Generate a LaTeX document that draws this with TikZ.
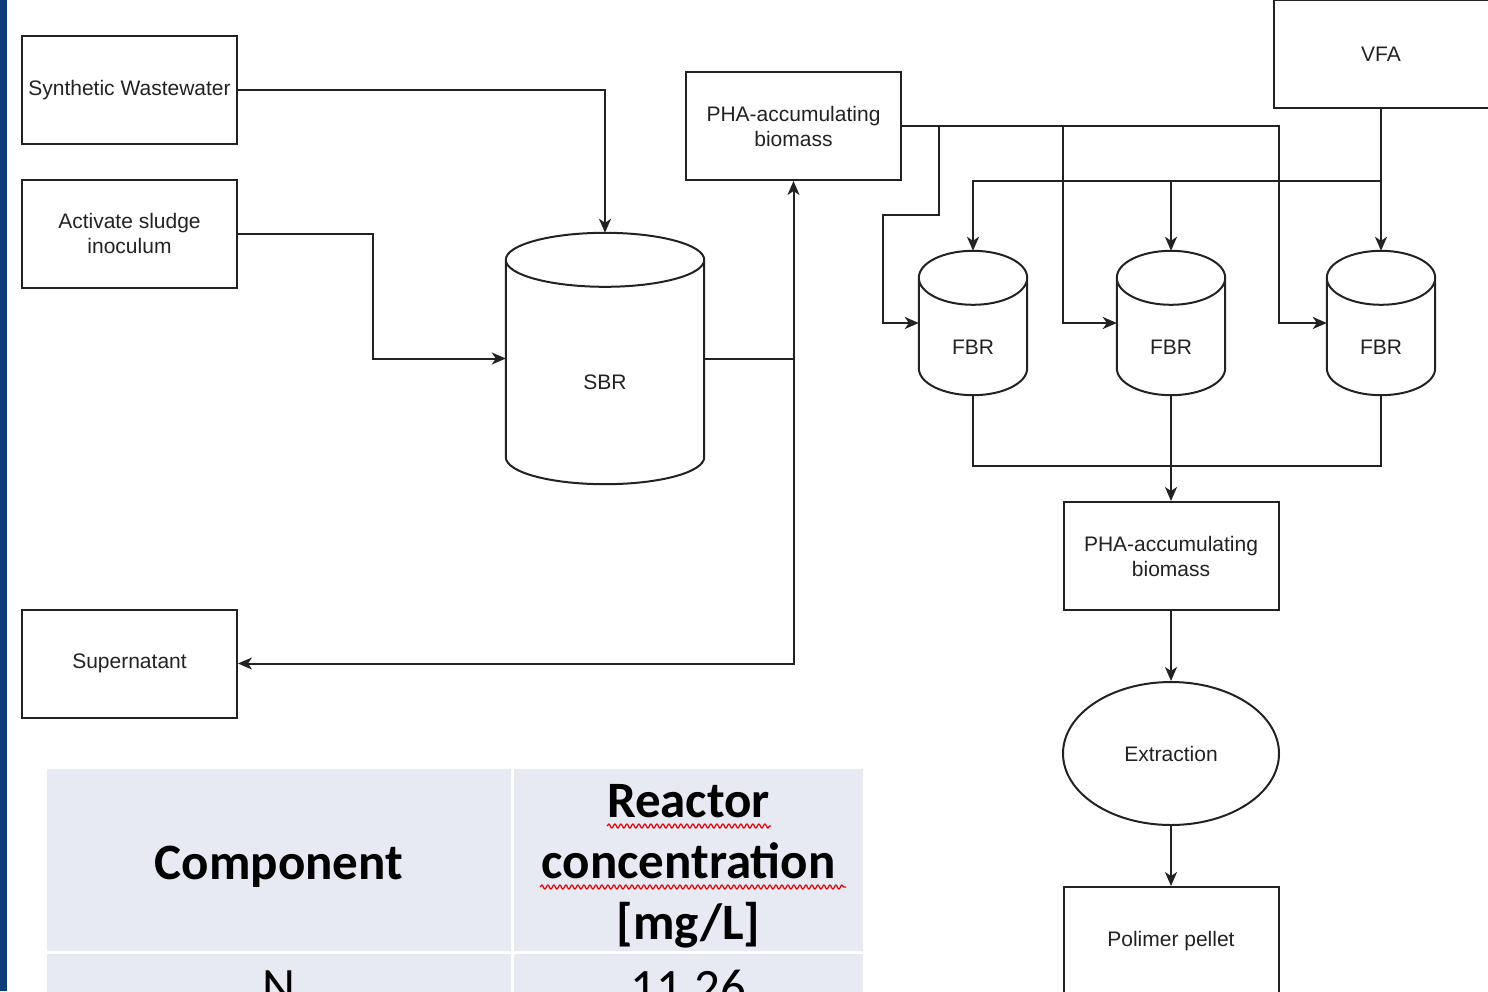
\documentclass[tikz,border=0pt]{standalone}
\usepackage{fontspec}
\setmainfont{Liberation Sans}
\newfontfamily\tabfont{Carlito}
\usetikzlibrary{arrows.meta,shapes.geometric,calc,decorations.pathmorphing}
\definecolor{slidebar}{RGB}{12,62,124}
\definecolor{cellbg}{RGB}{232,234,243}
\definecolor{inkgray}{RGB}{34,34,34}

\begin{document}
\begin{tikzpicture}[
    x=1pt, y=-1pt,
    >={Stealth[length=14pt,width=12pt,inset=4pt]},
    every node/.style={font=\fontsize{21}{25}\selectfont, text=inkgray},
    box/.style={
        draw=inkgray, line width=2pt,
        minimum width=215pt, minimum height=108pt,
        inner sep=0pt, align=center
    },
    tank/.style={minimum width=108pt, minimum height=144pt, inner sep=0pt},
    wire/.style={draw=inkgray, line width=2pt},
    flow/.style={wire, ->},
    cell/.style={fill=cellbg, inner sep=0pt},
    celltxt/.style={
        align=center, text=black,
        font=\tabfont\fontsize{51}{61}\selectfont
    },
    headtxt/.style={celltxt, font=\tabfont\bfseries\fontsize{51}{61}\selectfont},
    squiggle/.style={
        red!90!black, line width=1.2pt, decorate,
        decoration={snake, amplitude=2pt, segment length=6pt}
    }
]
\useasboundingbox (0,0) rectangle (1488,991);
\clip (0,0) rectangle (1488,991);

% ----------------------------------------------------------
% Slide edge
% ----------------------------------------------------------
\fill[slidebar] (0,0) rectangle (7,991);

% ----------------------------------------------------------
% Feed and SBR
% ----------------------------------------------------------
\node[box] (synth) at (129.5,90) {Synthetic Wastewater};
\node[box] (inoc) at (129.5,233.5) {Activate sludge\\inoculum};
\node[box] (super) at (129.5,663.5) {Supernatant};

\node[tank, minimum width=198pt, minimum height=251pt] (sbr) at (605,358.5) {};
\node (sbrtxt) at ([yshift=-24pt]sbr.center) {SBR};

\node[box] (pha1) at (793.5,126) {PHA-accumulating\\biomass};
\node[box] (vfa) at (1381,54) {VFA};

% ----------------------------------------------------------
% Drei FBR
% ----------------------------------------------------------
\foreach \n/\x in {1/973,2/1171,3/1381} {
    \node[tank] (fbr\n) at (\x,323) {};
    \node (fbrtxt\n) at ([yshift=-24pt]fbr\n.center) {FBR};
}

% cylinder outlines
\foreach \t in {sbr,fbr1,fbr2,fbr3} {
    \draw[wire] let \p1=(\t.north west), \p2=(\t.south east),
        \n1={(\x2-\x1)/2} in
        (\x1,\y1-27pt) -- (\x1,\y2+27pt)
        arc[start angle=180, end angle=360, x radius=\n1, y radius=27pt]
        -- (\x2,\y1-27pt)
        arc[start angle=0, end angle=360, x radius=\n1, y radius=27pt];
}

% ----------------------------------------------------------
% Downstream
% ----------------------------------------------------------
\node[box] (pha2) at (1171,556) {PHA-accumulating\\biomass};
\node[draw=inkgray, line width=2pt, ellipse, inner sep=0pt,
      minimum width=216pt, minimum height=143pt] (extr) at (1171,753.5) {Extraction};
\node[box] (pellet) at (1171,941) {Polimer pellet};

% ----------------------------------------------------------
% Connectors
% ----------------------------------------------------------
\draw[flow] (synth.east) -| (sbr.north);
\draw[flow] (inoc.east) -- ++(135,0) |- (sbr.west);

\coordinate (down) at (pha1.south |- super.east);
\draw[flow] (sbr.east) -| (pha1.south);
\draw[flow] (sbr.east) -| (down) -- (super.east);

\coordinate (b1) at ([xshift=37pt]pha1.east);
\coordinate (b2) at ([xshift=-54pt]fbr2.west |- pha1.east);
\coordinate (b3) at ([xshift=-48pt]fbr3.west |- pha1.east);
\draw[flow] (pha1.east) -- (b3) |- (fbr3.west);
\draw[flow] (b1) -- ++(0,89) -| ([xshift=-36pt]fbr1.west) -- (fbr1.west);
\draw[flow] (b2) |- (fbr2.west);

\coordinate (vj) at (vfa.south |- pha1.south);
\draw[flow] (vfa.south) -- (fbr3.north);
\draw[flow] (vj) -| (fbr1.north);
\draw[flow] (vj -| fbr2.north) -- (fbr2.north);

\draw[wire] (fbr1.south) -- ++(0,71) -| (fbr3.south);
\draw[flow] (fbr2.south) -- (pha2.north);
\draw[flow] (pha2.south) -- (extr.north);
\draw[flow] (extr.south) -- (pellet.north);

% ----------------------------------------------------------
% Tabelle
% ----------------------------------------------------------
\node[cell, minimum width=464pt, minimum height=182pt] (hcomp) at (279,860) {};
\node[cell, minimum width=349pt, minimum height=182pt] (hconc) at (688.5,860) {};
\node[cell, minimum width=464pt, minimum height=60pt] (ncomp) at (279,984) {};
\node[cell, minimum width=349pt, minimum height=60pt] (nval) at (688.5,984) {};

\node[headtxt] (hcomptxt) at ([yshift=-7pt]hcomp.center) {Component};
\node[headtxt] (hconctxt) at ([yshift=-6pt]hconc.center)
    {Reactor\\concentration\\{[mg/L]}};
\node[celltxt] (ncomptxt) at ([yshift=-3pt]ncomp.center) {N};
\node[celltxt] (nvaltxt) at ([yshift=-3pt]nval.center) {11.26};

\draw[squiggle] (607,826) -- (771,826);
\draw[squiggle] (540,887) -- (846,887);

\end{tikzpicture}
\end{document}
